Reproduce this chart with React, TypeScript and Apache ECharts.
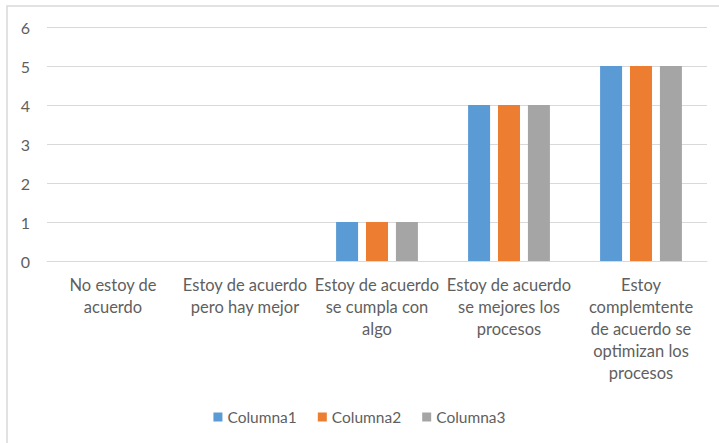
import React, { useEffect, useRef } from "react";
import * as echarts from "echarts";

const categories = [
  "No estoy de\nacuerdo",
  "Estoy de acuerdo\npero hay mejor",
  "Estoy de acuerdo\nse cumpla con\nalgo",
  "Estoy de acuerdo\nse mejores los\nprocesos",
  "Estoy\ncomplemtente\nde acuerdo se\noptimizan los\nprocesos",
];
const seriesNames = ["Columna1", "Columna2", "Columna3"];
const columna1 = [0, 0, 1, 4, 5];
const columna2 = [0, 0, 1, 4, 5];
const columna3 = [0, 0, 1, 4, 5];
const colors = ["#5B9BD5", "#ED7D31", "#A5A5A5"];
const yTicks = { min: 0, max: 6, interval: 1 };

const FONT = "Lato";

export default function App() {
  const ref = useRef<HTMLDivElement>(null);
  useEffect(() => {
    if (!ref.current) return;
    const chart = echarts.init(ref.current, undefined, { renderer: "svg" });
    const data = [columna1, columna2, columna3];
    chart.setOption({
      animation: false,
      backgroundColor: "#ffffff",
      textStyle: { fontFamily: FONT },
      graphic: [
        {
          type: "rect",
          shape: { x: 7, y: 6, width: 760, height: 480 },
          style: { fill: "none", stroke: "#d9d9d9", lineWidth: 1.5 },
          silent: true,
        },
      ],
      grid: { left: 47, right: 12, top: 27, bottom: 182, containLabel: false },
      legend: {
        top: 404,
        left: "center",
        itemWidth: 9,
        itemHeight: 9,
        itemGap: 21,
        icon: "rect",
        textStyle: { color: "#5f5f5f", fontSize: 15.5, fontFamily: FONT },
        data: seriesNames,
      },
      xAxis: {
        type: "category",
        data: categories,
        axisLine: { lineStyle: { color: "#d9d9d9", width: 1 } },
        axisTick: { show: false },
        axisLabel: {
          color: "#5f5f5f",
          fontSize: 16.5,
          fontFamily: FONT,
          lineHeight: 22,
          interval: 0,
          margin: 13,
          align: "center",
        },
      },
      yAxis: {
        type: "value",
        min: yTicks.min,
        max: yTicks.max,
        interval: yTicks.interval,
        axisLine: { show: false },
        axisTick: { show: false },
        splitLine: { lineStyle: { color: "#d9d9d9", width: 1 } },
        axisLabel: { color: "#5f5f5f", fontSize: 16, fontFamily: FONT, margin: 17 },
      },
      series: seriesNames.map((name, i) => ({
        name,
        type: "bar",
        data: data[i],
        barWidth: 22,
        barGap: "36%",
        itemStyle: { color: colors[i] },
      })),
    });
    return () => chart.dispose();
  }, []);
  return (
    <div
      ref={ref}
      style={{ position: "fixed", left: 0, top: 0, width: 719, height: 443 }}
    />
  );
}
